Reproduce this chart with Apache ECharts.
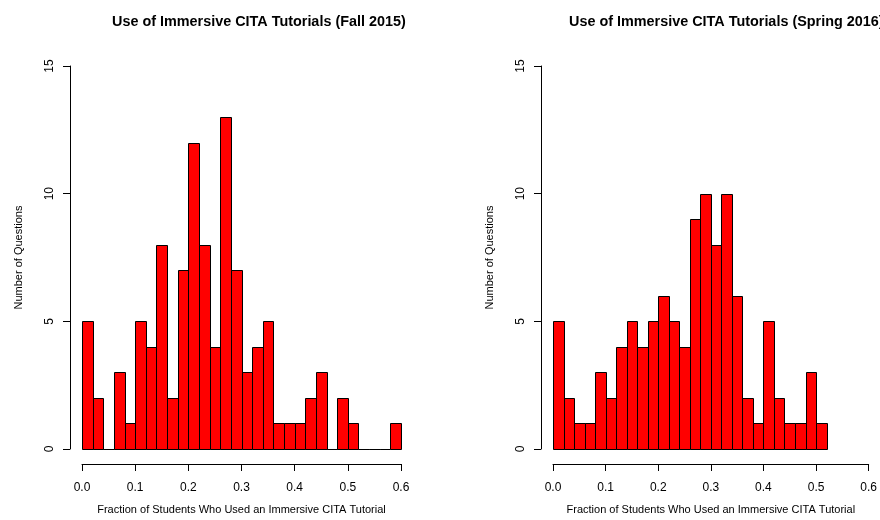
<!DOCTYPE html>
<html>
<head>
<meta charset="utf-8">
<script src="https://cdn.jsdelivr.net/npm/echarts@6/dist/echarts.min.js"></script>
<style>html,body{margin:0;padding:0;background:#fff;}#c{width:880px;height:520px;}</style>
</head>
<body>
<div id="c"></div>
<script>
// Data
var binWidth = 0.02;
var fallCounts = [5,2,0,3,1,5,4,8,2,7,12,8,4,13,7,3,4,5,1,1,1,2,3,0,2,1,0,0,0,1];
var springCounts = [5,2,1,1,3,2,4,5,4,5,6,5,4,9,10,8,10,6,2,1,5,2,1,1,3,1];
var xTicks = [0, 0.1, 0.2, 0.3, 0.4, 0.5, 0.6];
var yTicks = [0, 5, 10, 15];
var titles = ['Use of Immersive CITA Tutorials (Fall 2015)', 'Use of Immersive CITA Tutorials (Spring 2016)'];
var xTitle = 'Fraction of Students Who Used an Immersive CITA Tutorial';
var yTitle = 'Number of Questions';

function toBins(counts) {
  return counts.map(function (c, i) { return [i * binWidth, (i + 1) * binWidth, c]; });
}

var FONT = 'Liberation Sans, Arial, Helvetica, sans-serif';

function renderBar(params, api) {
  var p0 = api.coord([api.value(0), 0]);
  var p1 = api.coord([api.value(1), api.value(2)]);
  var x0 = Math.round(p0[0]) + 0.5, x1 = Math.round(p1[0]) + 0.5;
  var y0 = Math.round(p0[1]) + 0.5, y1 = Math.round(p1[1]) + 0.5;
  return {
    type: 'rect',
    shape: { x: x0, y: y1, width: x1 - x0, height: y0 - y1 },
    style: { fill: '#ff0000', stroke: '#000', lineWidth: 1 }
  };
}

function xAxisOpt(gi) {
  return {
    gridIndex: gi, type: 'value', min: xTicks[0], max: xTicks[xTicks.length - 1], interval: 0.1,
    offset: 15,
    axisLine: { show: true, onZero: false, lineStyle: { color: '#000', width: 1 } },
    axisTick: { show: true, inside: false, length: 7, lineStyle: { color: '#000' } },
    splitLine: { show: false },
    axisLabel: { color: '#000', fontSize: 12, fontFamily: FONT, margin: 18,
      formatter: function (v) { return v.toFixed(1); }, showMaxLabel: true, showMinLabel: true },
    name: xTitle, nameLocation: 'middle', nameGap: 40,
    nameTextStyle: { color: '#000', fontSize: 11, fontFamily: FONT }
  };
}
function yAxisOpt(gi) {
  return {
    gridIndex: gi, type: 'value', min: yTicks[0], max: yTicks[yTicks.length - 1], interval: 5,
    offset: 12,
    axisLine: { show: true, onZero: false, lineStyle: { color: '#000', width: 1 } },
    axisTick: { show: true, inside: false, length: 7, lineStyle: { color: '#000' } },
    splitLine: { show: false },
    axisLabel: { color: '#000', fontSize: 12, fontFamily: FONT, margin: 14, rotate: 90 },
    name: yTitle, nameLocation: 'middle', nameGap: 46, nameRotate: 90,
    nameTextStyle: { color: '#000', fontSize: 11, fontFamily: FONT }
  };
}

var chart = echarts.init(document.getElementById('c'), null, { renderer: 'canvas' });
chart.setOption({
  animation: false,
  backgroundColor: '#fff',
  grid: [
    { left: 82, top: 66, width: 319, height: 384 },
    { left: 553, top: 66, width: 320, height: 384 }
  ],
  xAxis: [xAxisOpt(0), xAxisOpt(1)],
  yAxis: [yAxisOpt(0), yAxisOpt(1)],
  graphic: [
    { type: 'text', x: 112, y: 15, style: { text: titles[0], fill: '#000', font: 'bold 14.4px ' + FONT } },
    { type: 'text', x: 569, y: 15, style: { text: titles[1], fill: '#000', font: 'bold 14.4px ' + FONT } }
  ],
  series: [
    { type: 'custom', xAxisIndex: 0, yAxisIndex: 0, data: toBins(fallCounts), renderItem: renderBar, clip: false },
    { type: 'custom', xAxisIndex: 1, yAxisIndex: 1, data: toBins(springCounts), renderItem: renderBar, clip: false }
  ]
});
</script>
</body>
</html>
